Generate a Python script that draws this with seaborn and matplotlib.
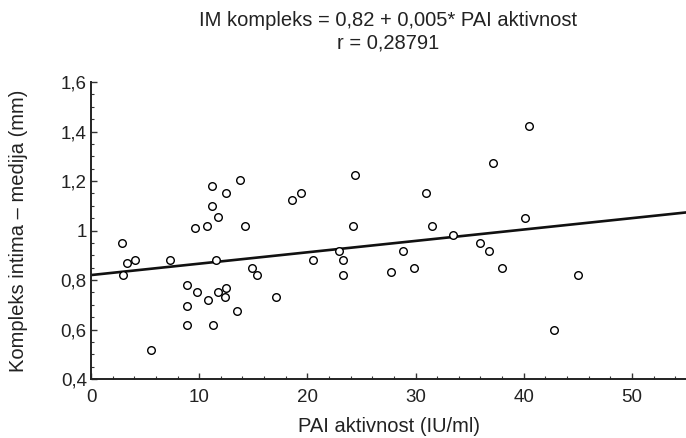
import seaborn as sns
import numpy as np
import pandas as pd
import matplotlib.pyplot as plt
from matplotlib.ticker import MultipleLocator, FuncFormatter

# PAI aktivnost (IU/ml) vs. kompleks intima-medija (mm)
pai = [11.15, 13.8, 12.5, 11.15, 11.77, 9.58, 10.7, 14.2, 18.6, 19.4,
       2.83, 3.33, 4.07, 2.96, 7.27, 11.52, 8.84, 9.83, 8.84, 8.84,
       10.8, 11.77, 12.5, 12.38, 11.27, 13.46, 5.55, 14.85, 15.34, 17.07,
       20.55, 24.43, 24.2, 31.0, 31.5, 37.2, 40.5, 40.1, 33.5, 22.95,
       23.3, 23.3, 27.7, 28.8, 29.9, 35.95, 36.8, 38.0, 44.98, 42.8]
imt = [1.18, 1.203, 1.153, 1.10, 1.053, 1.009, 1.019, 1.019, 1.122, 1.153,
       0.949, 0.87, 0.881, 0.821, 0.881, 0.881, 0.778, 0.752, 0.697, 0.617,
       0.72, 0.752, 0.768, 0.73, 0.617, 0.676, 0.516, 0.848, 0.821, 0.73,
       0.881, 1.223, 1.019, 1.153, 1.019, 1.271, 1.422, 1.052, 0.983, 0.918,
       0.881, 0.821, 0.832, 0.918, 0.847, 0.949, 0.917, 0.847, 0.821, 0.597]

intercept = 0.82
slope = 0.0046
title1 = "IM kompleks = 0,82 + 0,005* PAI aktivnost"
title2 = "r = 0,28791"

df = pd.DataFrame({"pai": pai, "imt": imt})

sns.set_style("ticks")
plt.rcParams['font.family'] = ['Liberation Sans', 'DejaVu Sans']

fig = plt.figure(figsize=(6.86, 4.38), dpi=100)
ax = fig.add_axes([0.1327, 0.1347, 0.8673, 0.678])

xmin, xmax = 0, 55
line_x = np.array([xmin, xmax])
ax.plot(line_x, intercept + slope * line_x, color="#111111", lw=1.9, zorder=2)

sns.scatterplot(data=df, x="pai", y="imt", ax=ax, marker="o", s=30,
                facecolor="white", edgecolor="black", linewidth=1.0, zorder=3)

ax.set_xlim(xmin, xmax)
ax.set_ylim(0.4, 1.6)
ax.xaxis.set_major_locator(MultipleLocator(10))
ax.xaxis.set_minor_locator(MultipleLocator(2))
ax.yaxis.set_major_locator(MultipleLocator(0.2))
ax.yaxis.set_minor_locator(MultipleLocator(0.05))
ax.yaxis.set_major_formatter(FuncFormatter(lambda v, p: f"{v:g}".replace(".", ",")))

ax.tick_params(which="major", direction="in", length=4, width=1,
               labelsize=13.5, labelcolor="#222222", color="#333333")
ax.tick_params(which="minor", direction="in", length=2.5, width=0.8, color="#333333")
ax.tick_params(axis="x", which="major", pad=7)
ax.tick_params(axis="y", which="major", pad=3)

for s in ["top", "right"]:
    ax.spines[s].set_visible(False)
for s in ["left", "bottom"]:
    ax.spines[s].set_linewidth(1.4)
    ax.spines[s].set_color("#222222")

ax.set_xlabel("PAI aktivnost (IU/ml)", fontsize=14.5, color="#222222", va="center")
ax.set_ylabel("Kompleks intima – medija (mm)", fontsize=14.5, color="#222222", va="center")
ax.xaxis.set_label_coords(0.5, -0.1616)
ax.yaxis.set_label_coords(-0.1227, 0.5)

fig.text(0.5656, 1 - 21 / 438, title1, ha="center", va="center", fontsize=14.5, color="#222222")
fig.text(0.5656, 1 - 43 / 438, title2, ha="center", va="center", fontsize=14.5, color="#222222")

fig.savefig("out.png", dpi=100)
